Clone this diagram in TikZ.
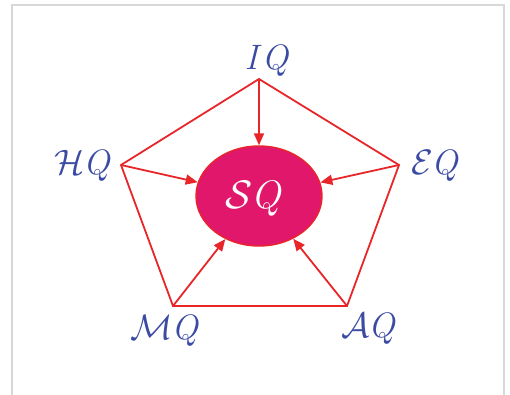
\documentclass[tikz,border=0pt]{standalone}
\usepackage{graphicx}
\usetikzlibrary{arrows.meta,shapes.geometric}
\definecolor{lbl}{HTML}{3B4BA3}
\definecolor{ln}{HTML}{E8262A}
\definecolor{blob}{HTML}{E0176A}
\definecolor{frm}{HTML}{D8D8D8}
\newcommand{\biglab}[1]{\scalebox{1.42}{\Huge$#1$}}
\newcommand{\sqlab}[1]{\scalebox{1.6}{\Huge$#1$}}
\begin{document}
\begin{tikzpicture}[x=1pt,y=-1pt,
  lab/.style={text=lbl,inner sep=0pt},
  edge/.style={draw=ln,line width=1.8pt,line join=miter},
  arr/.style={edge,-{Triangle[length=12pt,width=10pt]}}]
\useasboundingbox (0,0) rectangle (510,395);
\fill[white] (0,0) rectangle (510,395);
\draw[frm,line width=2pt] (12,400) -- (12,5) -- (504,5) -- (504,400);
\coordinate (vI) at (259,79);
\coordinate (vH) at (121,165);
\coordinate (vE) at (399,165);
\coordinate (vM) at (173,306);
\coordinate (vA) at (347,306);
\node[ellipse,draw=ln,line width=1.4pt,fill=blob,minimum width=126,minimum height=100,inner sep=0pt] (sq) at (259,196) {};
\node[text=white,inner sep=0pt] (sqt) at (255,199) {\sqlab{\mathcal{S}\mkern-1mu\mathit{Q}}};
\node[lab] (I) at (268,61) {\biglab{\mathit{I}\mkern-1mu\mathit{Q}}};
\node[lab] (H) at (84,166) {\biglab{\mathcal{H}\mkern-1mu\mathit{Q}}};
\node[lab] (E) at (436,166) {\biglab{\mathcal{E}\mkern-1mu\mathit{Q}}};
\node[lab] (M) at (166,331) {\biglab{\mathcal{M}\mkern-1mu\mathit{Q}}};
\node[lab] (A) at (370,329) {\biglab{\mathcal{A}\mkern-1mu\mathit{Q}}};
\draw[edge] (vI) -- (vE) -- (vA) -- (vM) -- (vH) -- cycle;
\draw[arr] (vI) -- (sq);
\draw[arr] (vH) -- (sq);
\draw[arr] (vE) -- (sq);
\draw[arr] (vM) -- (sq);
\draw[arr] (vA) -- (sq);
\end{tikzpicture}
\end{document}
